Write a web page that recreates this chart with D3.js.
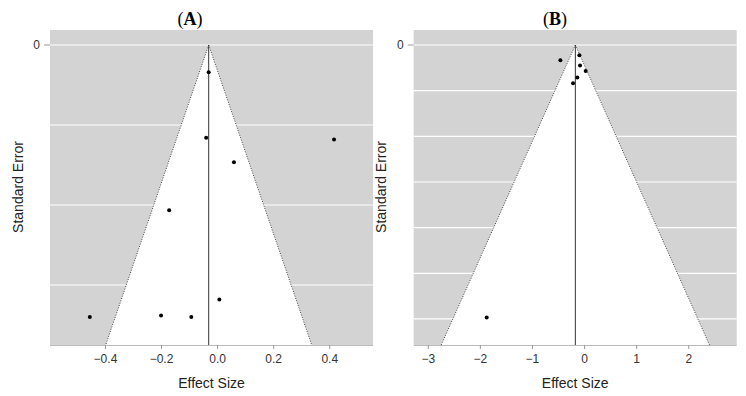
<!DOCTYPE html>
<html><head><meta charset="utf-8">
<script src="https://cdn.jsdelivr.net/npm/d3@7"></script>
<style>body{margin:0;background:#fff}svg{display:block}</style>
</head><body>
<svg id="c" width="746" height="396"></svg>
<script>
// Panel A data
const effectA = [-0.030, -0.039, 0.417, 0.060, -0.171, 0.008, -0.454, -0.200, -0.092];
const seA     = [0.0171, 0.058, 0.059, 0.0733, 0.1033, 0.159, 0.170, 0.169, 0.170];
const centerA = -0.030;
const seMaxA = 0.1875;
const xTicksA = [-0.4, -0.2, 0.0, 0.2, 0.4];
const gridA = [0, 0.05, 0.10, 0.15];
// Panel B data
const effectB = [-0.090, -0.455, -0.077, 0.031, -0.129, -0.211, -1.869];
const seB     = [0.045, 0.067, 0.090, 0.114, 0.142, 0.167, 1.194];
const centerB = -0.167;
const seMaxB = 1.314;
const xTicksB = [-3, -2, -1, 0, 1, 2];
const gridB = [0, 0.2, 0.4, 0.6, 0.8, 1.0, 1.2];

const titles = ["A", "B"];
const svg = d3.select("#c");

function panel(cfg) {
  const g = svg.append("g");
  const x = d3.scaleLinear().domain(cfg.xDomain).range([cfg.x0, cfg.x1]);
  const y = d3.scaleLinear().domain([0, cfg.seMax]).range([45, 345]);
  // background
  g.append("rect").attr("x", cfg.x0).attr("y", 30).attr("width", cfg.x1 - cfg.x0).attr("height", 315).attr("fill", "#d3d3d3");
  // gridlines
  g.selectAll(".grid").data(cfg.grid).enter().append("line")
    .attr("x1", cfg.x0).attr("x2", cfg.x1).attr("y1", d => y(d)).attr("y2", d => y(d))
    .attr("stroke", "#fff").attr("stroke-width", 1.2);
  // funnel
  const k = 1.96;
  const tri = [[cfg.center, 0], [cfg.center - k * cfg.seMax, cfg.seMax], [cfg.center + k * cfg.seMax, cfg.seMax]];
  g.append("path").attr("d", "M" + tri.map(p => [x(p[0]), y(p[1])].join(",")).join("L") + "Z").attr("fill", "#fff");
  g.append("line").attr("x1", x(tri[0][0])).attr("y1", y(0)).attr("x2", x(tri[1][0])).attr("y2", y(cfg.seMax))
    .attr("stroke", "#444").attr("stroke-width", 1).attr("stroke-dasharray", "1,1.5");
  g.append("line").attr("x1", x(tri[0][0])).attr("y1", y(0)).attr("x2", x(tri[2][0])).attr("y2", y(cfg.seMax))
    .attr("stroke", "#444").attr("stroke-width", 1).attr("stroke-dasharray", "1,1.5");
  // center line
  g.append("line").attr("x1", x(cfg.center)).attr("x2", x(cfg.center)).attr("y1", y(0)).attr("y2", y(cfg.seMax))
    .attr("stroke", "#333").attr("stroke-width", 1);
  // points
  g.selectAll(".pt").data(cfg.eff).enter().append("circle")
    .attr("cx", d => x(d)).attr("cy", (d, i) => y(cfg.se[i])).attr("r", 2).attr("fill", "#000");
  // x axis
  const xa = g.append("g").attr("transform", "translate(0,345)")
    .call(d3.axisBottom(x).tickValues(cfg.xTicks).tickSize(4).tickPadding(5)
      .tickFormat(cfg.fmt));
  xa.select(".domain").attr("stroke", "#bbb").attr("d", `M${cfg.x0},0.5H${cfg.x1}`);
  xa.selectAll(".tick line").attr("stroke", "#999");
  xa.selectAll(".tick text").attr("fill", "#333").style("font-family", "'Liberation Sans', Arial, sans-serif").style("font-size", "12px");
  // y axis (only 0 labeled)
  g.append("line").attr("x1", cfg.x0 - 6).attr("x2", cfg.x0).attr("y1", y(0)).attr("y2", y(0)).attr("stroke", "#999");
  g.append("text").attr("x", cfg.x0 - 10).attr("y", y(0)).attr("dy", "0.35em").attr("text-anchor", "end")
    .attr("fill", "#333").style("font-family", "'Liberation Sans', Arial, sans-serif").style("font-size", "12px").text("0");
  // axis titles
  g.append("text").attr("x", (cfg.x0 + cfg.x1) / 2).attr("y", 388).attr("text-anchor", "middle")
    .attr("fill", "#222").style("font-family", "'Liberation Sans', Arial, sans-serif").style("font-size", "14px").text("Effect Size");
  g.append("text").attr("transform", `translate(${cfg.yLabX},187) rotate(-90)`).attr("text-anchor", "middle")
    .attr("fill", "#222").style("font-family", "'Liberation Sans', Arial, sans-serif").style("font-size", "14px").text("Standard Error");
  // title
  const t = g.append("text").attr("x", cfg.titleX).attr("y", 25).attr("text-anchor", "middle")
    .style("font-family", "'Liberation Serif', 'DejaVu Serif', serif").style("font-size", "18px").attr("fill", "#000");
  t.append("tspan").text("(");
  t.append("tspan").attr("font-weight", "bold").text(cfg.title);
  t.append("tspan").text(")");
}

panel({x0: 50, x1: 373, xDomain: [-0.596, 0.556], seMax: seMaxA, center: centerA, grid: gridA,
  eff: effectA, se: seA, xTicks: xTicksA, fmt: d3.format(".1f"), yLabX: 23, titleX: 190, title: titles[0]});
panel({x0: 413.7, x1: 736.7, xDomain: [-3.27, 2.93], seMax: seMaxB, center: centerB, grid: gridB,
  eff: effectB, se: seB, xTicks: xTicksB, fmt: d3.format("d"), yLabX: 386, titleX: 555, title: titles[1]});
</script>
</body></html>
